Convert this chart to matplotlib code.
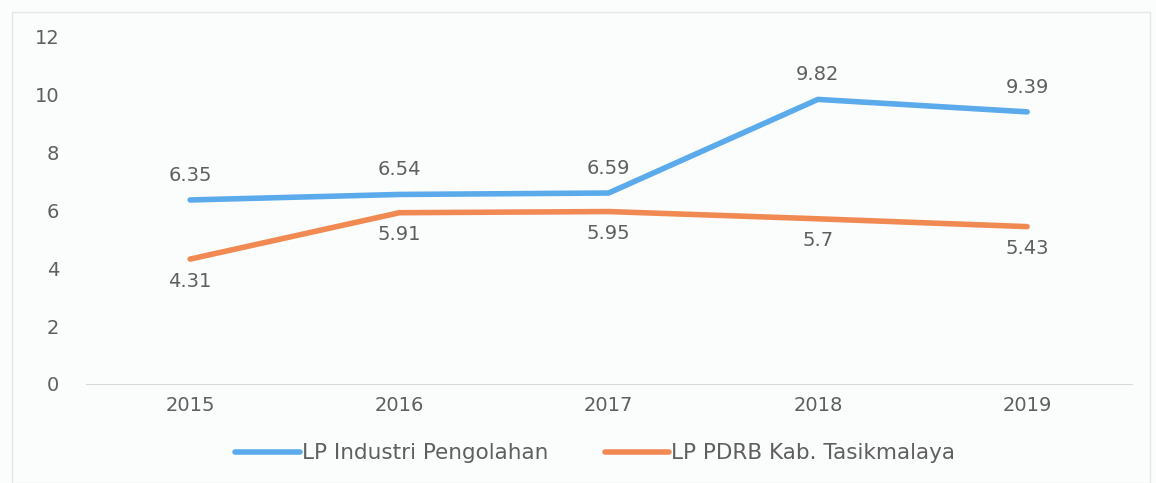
import matplotlib.pyplot as plt

years = ["2015", "2016", "2017", "2018", "2019"]
industri = [6.35, 6.54, 6.59, 9.82, 9.39]
pdrb = [4.31, 5.91, 5.95, 5.7, 5.43]
industri_labels = ["6.35", "6.54", "6.59", "9.82", "9.39"]
pdrb_labels = ["4.31", "5.91", "5.95", "5.7", "5.43"]

BLUE = "#5AAAEC"
ORANGE = "#F08A52"
GRAY = "#5f5f5f"

fig = plt.figure(figsize=(11.56, 4.83), dpi=100, facecolor="#fbfcfc")
ax = fig.add_axes([0.074, 0.205, 0.905, 0.72])
ax.set_facecolor("#fbfcfc")

x = range(len(years))
ax.plot(x, industri, color=BLUE, lw=4, solid_capstyle="round", label="LP Industri Pengolahan")
ax.plot(x, pdrb, color=ORANGE, lw=4, solid_capstyle="round", label="LP PDRB Kab. Tasikmalaya")

for i, (v, t) in enumerate(zip(industri, industri_labels)):
    ax.annotate(t, (i, v), xytext=(0, 11), textcoords="offset points",
                ha="center", va="bottom", fontsize=14, color=GRAY)
for i, (v, t) in enumerate(zip(pdrb, pdrb_labels)):
    ax.annotate(t, (i, v), xytext=(0, -9), textcoords="offset points",
                ha="center", va="top", fontsize=14, color=GRAY)

ax.set_xlim(-0.5, len(years) - 0.5)
ax.set_ylim(0, 12)
ax.set_yticks(range(0, 13, 2))
ax.set_xticks(list(x))
ax.set_xticklabels(years)
ax.tick_params(axis="both", length=0, labelsize=14, labelcolor=GRAY)
ax.tick_params(axis="x", pad=9)
ax.tick_params(axis="y", pad=19)
for s in ["top", "right", "left"]:
    ax.spines[s].set_visible(False)
ax.spines["bottom"].set_color("#d9d9d9")

leg = fig.legend(loc="center", bbox_to_anchor=(0.515, 0.062), ncol=2, frameon=False,
                 handlelength=3.0, handletextpad=0.1, columnspacing=2.6,
                 prop={"family": "DejaVu Sans", "size": 15.5})
for t in leg.get_texts():
    t.set_color(GRAY)

border = plt.Rectangle((0.01, 0.0), 0.985, 0.975, transform=fig.transFigure,
                       fill=False, edgecolor="#e6e6e6", lw=1)
fig.patches.append(border)

fig.savefig("out.png", dpi=100, facecolor=fig.get_facecolor())
